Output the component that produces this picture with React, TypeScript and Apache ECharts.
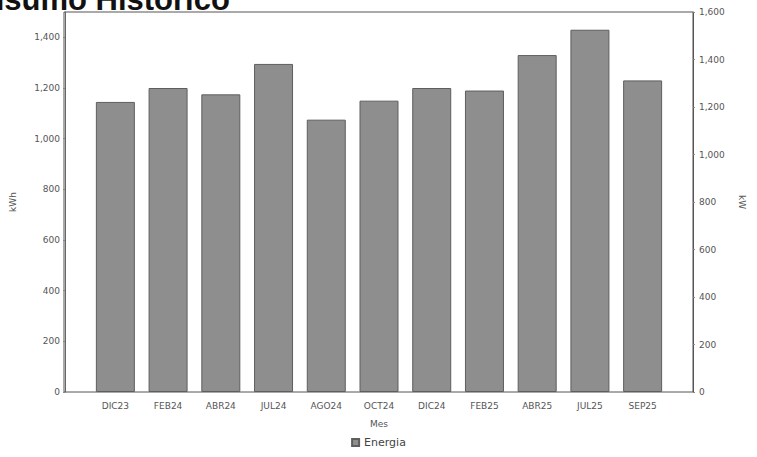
import React, { useEffect, useRef } from "react";
import * as echarts from "echarts";

const titleText = "Consumo Histórico";
const months = ["DIC23", "FEB24", "ABR24", "JUL24", "AGO24", "OCT24", "DIC24", "FEB25", "ABR25", "JUL25", "SEP25"];
const energyKWh = [1145, 1200, 1175, 1295, 1075, 1150, 1200, 1190, 1330, 1430, 1230];
const seriesName = "Energia";
const leftAxisName = "kWh";
const rightAxisName = "kW";
const xAxisName = "Mes";

const fmt = (v: number) => v.toLocaleString("en-US");
const FONT = "DejaVu Sans";

export default function App() {
  const ref = useRef<HTMLDivElement>(null);
  useEffect(() => {
    if (!ref.current) return;
    const chart = echarts.init(ref.current, undefined, { renderer: "svg" });
    chart.setOption({
      animation: false,
      backgroundColor: "#ffffff",
      textStyle: { fontFamily: FONT },
      graphic: [
        {
          type: "text",
          x: -56,
          y: -1,
          style: {
            text: titleText,
            font: "bold 31px 'Liberation Sans', Arial, sans-serif",
            fill: "#111111",
            verticalAlign: "middle",
          },
        },
      ],
      grid: [
        { left: 88, right: 88, top: 12, bottom: 65 },
        { left: 64, right: 64, top: 12, bottom: 65, show: true, borderColor: "#555555", borderWidth: 1, backgroundColor: "transparent" },
      ],
      legend: {
        data: [seriesName],
        bottom: 4,
        left: "center",
        itemWidth: 7,
        itemHeight: 7,
        icon: "rect",
        textStyle: { fontSize: 11, color: "#444444", fontFamily: FONT },
      },
      xAxis: [
        {
          type: "category",
          gridIndex: 0,
          data: months,
          axisLine: { show: false },
          axisTick: { show: false },
          axisLabel: { color: "#555555", fontSize: 9, margin: 9, fontFamily: FONT },
          name: xAxisName,
          nameLocation: "middle",
          nameGap: 27,
          nameTextStyle: { color: "#555555", fontSize: 9, fontFamily: FONT },
        },
        { type: "value", gridIndex: 1, show: false },
      ],
      yAxis: [
        {
          type: "value",
          gridIndex: 0,
          position: "left",
          offset: 24,
          min: 0,
          max: 1500,
          interval: 200,
          splitLine: { show: false },
          axisLine: { show: true, lineStyle: { color: "#666666" } },
          axisTick: { show: true, length: 2, lineStyle: { color: "#888888" } },
          axisLabel: { color: "#555555", fontSize: 9, margin: 5, showMaxLabel: false, formatter: fmt, fontFamily: FONT },
          name: leftAxisName,
          nameLocation: "middle",
          nameRotate: 90,
          nameGap: 48,
          nameTextStyle: { color: "#555555", fontSize: 9, fontFamily: FONT },
        },
        {
          type: "value",
          gridIndex: 0,
          position: "right",
          offset: 24,
          min: 0,
          max: 1600,
          interval: 200,
          splitLine: { show: false },
          axisLine: { show: true, lineStyle: { color: "#555555" } },
          axisTick: { show: true, length: 2, inside: false, lineStyle: { color: "#888888" } },
          axisLabel: { color: "#555555", fontSize: 9, margin: 6, formatter: fmt, fontFamily: FONT },
          name: rightAxisName,
          nameLocation: "middle",
          nameRotate: -90,
          nameGap: 44,
          nameTextStyle: { color: "#555555", fontSize: 9, fontFamily: FONT },
        },
        { type: "value", gridIndex: 1, show: false },
      ],
      series: [
        {
          name: seriesName,
          type: "bar",
          xAxisIndex: 0,
          yAxisIndex: 0,
          data: energyKWh,
          barWidth: 39,
          itemStyle: { color: "#8e8e8e", borderColor: "#5e5e5e", borderWidth: 1 },
        },
      ],
    });
    return () => chart.dispose();
  }, []);
  return <div ref={ref} style={{ width: 757, height: 457, position: "absolute", left: 0, top: 0 }} />;
}
